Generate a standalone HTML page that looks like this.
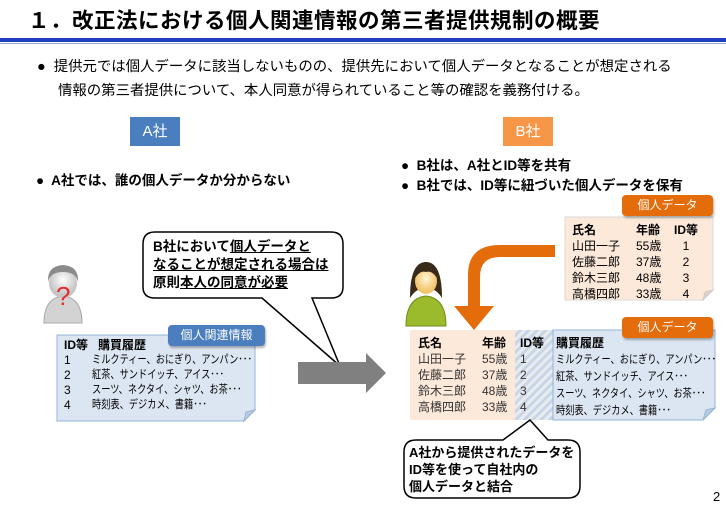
<!DOCTYPE html>
<html><head><meta charset="utf-8"><style>
body{margin:0;width:726px;height:506px;background:#fff;position:relative;overflow:hidden;font-family:"Liberation Sans","Noto Sans CJK JP",sans-serif;color:#000}
.a{position:absolute;white-space:nowrap}
.b{font-weight:bold}
.tab{position:absolute;color:#fff;font-size:12px;text-align:center;border-radius:4px;line-height:21px;box-shadow:1px 2px 2px rgba(0,0,0,.3)}
.row{position:absolute;font-size:12px;line-height:15px;white-space:nowrap}
.sq{display:inline-block;transform:scaleX(0.8);transform-origin:left center;font-size:11.5px}
</style></head><body>
<div class="a b" style="left:28px;top:4px;font-size:21.5px;letter-spacing:0.5px">１．改正法における個人関連情報の第三者提供規制の概要</div>
<div class="a" style="left:0;top:38px;width:726px;height:4px;background:#1f3fbf"></div>
<div class="a" style="left:0;top:43px;width:726px;height:1px;background:#9aa8d8"></div>
<div class="a" style="left:37px;top:55px;font-size:14.4px;line-height:24px">●&nbsp; 提供元では個人データに該当しないものの、提供先において個人データとなることが想定される</div>
<div class="a" style="left:58px;top:79px;font-size:14.4px;line-height:24px">情報の第三者提供について、本人同意が得られていること等の確認を義務付ける。</div>
<div class="a" style="left:130px;top:117px;width:50px;height:29px;background:#4a7ebf;color:#fff;font-size:15px;line-height:29px;text-align:center">A社</div>
<div class="a" style="left:503px;top:117px;width:50px;height:29px;background:#f79646;color:#fff;font-size:15px;line-height:29px;text-align:center">B社</div>
<div class="a b" style="left:36px;top:169px;font-size:13.5px">●&nbsp; A社では、誰の個人データか分からない</div>
<div class="a b" style="left:401px;top:154px;font-size:13.5px">●&nbsp; B社は、A社とID等を共有</div>
<div class="a b" style="left:401px;top:174px;font-size:13.5px">●&nbsp; B社では、ID等に紐づいた個人データを保有</div>

<svg class="a" style="left:0;top:0" width="726" height="506">
<defs><pattern id="h" width="6" height="6" patternUnits="userSpaceOnUse" patternTransform="rotate(45)"><rect width="6" height="6" fill="#e8ecef"/><rect width="3" height="6" fill="#c7d5e6"/></pattern>
<radialGradient id="fa" cx="50%" cy="40%"><stop offset="0" stop-color="#fff"/><stop offset="1" stop-color="#bbb"/></radialGradient>
<radialGradient id="fb" cx="50%" cy="40%"><stop offset="0" stop-color="#fff6d8"/><stop offset="1" stop-color="#f2c46a"/></radialGradient></defs>
<path d="M155 232 H331 Q343 232 343 244 V287 Q343 298 331 298 H312 L340 366 L262 298 H155 Q143 298 143 287 V244 Q143 232 155 232Z" fill="#fff" stroke="#000" stroke-width="1.5"/>
<g opacity="0.85"><path d="M44 323 Q44 298 63 296 Q82 298 82 323Z" fill="#ccc" stroke="#999"/>
<ellipse cx="63" cy="283" rx="14" ry="15" fill="url(#fa)"/><path d="M48 282 Q47 266 63 265 Q79 266 78 282 Q76 272 63 272 Q50 272 48 282Z" fill="#777"/></g>
<text x="56" y="305" font-size="26" fill="#e53030" font-family="Liberation Sans">?</text>
<path d="M57 335 H255 V410 L244 421 H57Z" fill="#dce6f2" stroke="#95b3d7"/>
<path d="M255 410 L246 412 L244 421Z" fill="#b8cce4" stroke="#95b3d7"/>
<path d="M298 362 H366 V353 L386 373 L366 393 V384 H298Z" fill="#808080"/>
<path d="M565 217 H713 V290 L703 300 H565Z" fill="#fde9d9" stroke="#d9d9d9"/>
<path d="M713 290 L705 292 L703 300Z" fill="#e6d0c0" stroke="#ccc"/>
<path d="M555 245 H500 Q468 245 468 275 V306 H454 L474 330 L494 306 H480 V277 Q480 257 500 257 H555Z" fill="#e46c0a"/>
<path d="M406 326 Q406 298 426 296 Q446 298 446 326Z" fill="#9bbb2c" stroke="#6f8a18"/>
<path d="M410 298 Q410 262 426 262 Q442 262 442 298 Q436 288 426 288 Q416 288 410 298Z" fill="#3a2a1a"/>
<ellipse cx="426" cy="281" rx="11" ry="13" fill="url(#fb)"/>
<path d="M415 278 Q416 266 426 266 Q436 266 437 278 Q432 270 426 272 Q420 270 415 278Z" fill="#3a2a1a"/>
<rect x="410" y="330" width="105" height="90" fill="#fde9d9"/>
<rect x="515" y="330" width="38" height="90" fill="url(#h)"/>
<path d="M553 330 H715 V408 L703 420 H553Z" fill="#dce6f2" stroke="#95b3d7"/>
<path d="M715 408 L706 410 L703 420Z" fill="#b8cce4" stroke="#95b3d7"/>
<path d="M416 440 H503 L530 420 L548 440 H568 Q580 440 580 452 V486 Q580 498 568 498 H416 Q404 498 404 486 V452 Q404 440 416 440Z" fill="#fff" stroke="#000" stroke-width="1.5"/>
</svg>

<div class="a b" style="left:153px;top:238px;font-size:13.5px;line-height:18px">B社において<u>個人データと</u><br><u>なることが想定される場合は</u><br>原則<u>本人の同意が必要</u></div>

<div class="tab" style="left:168px;top:325px;width:97px;background:#4a7ebf">個人関連情報</div>
<div class="row b" style="left:64px;top:338px">ID等&nbsp;&nbsp; 購買履歴</div>
<div class="row" style="left:64px;top:353px">1<span class="sq" style="position:absolute;left:28px">ミルクティー、おにぎり、アンパン･･･</span></div>
<div class="row" style="left:64px;top:368px">2<span class="sq" style="position:absolute;left:28px">紅茶、サンドイッチ、アイス･･･</span></div>
<div class="row" style="left:64px;top:383px">3<span class="sq" style="position:absolute;left:28px">スーツ、ネクタイ、シャツ、お茶･･･</span></div>
<div class="row" style="left:64px;top:398px">4<span class="sq" style="position:absolute;left:28px">時刻表、デジカメ、書籍･･･</span></div>

<div class="tab" style="left:622px;top:195px;width:91px;background:#e46c0a">個人データ</div>
<div class="row" style="left:572px;top:222px;line-height:16px"><b>氏名</b><br>山田一子<br>佐藤二郎<br>鈴木三郎<br>高橋四郎</div>
<div class="row" style="left:636px;top:222px;line-height:16px"><b>年齢</b><br>55歳<br>37歳<br>48歳<br>33歳</div>
<div class="row" style="left:674px;top:222px;line-height:16px;text-align:center"><b>ID等</b><br>1<br>2<br>3<br>4</div>

<div class="tab" style="left:622px;top:317px;width:91px;background:#e46c0a">個人データ</div>
<div class="row" style="left:418px;top:335px;line-height:16px;color:#333"><b style="color:#000">氏名</b><br>山田一子<br>佐藤二郎<br>鈴木三郎<br>高橋四郎</div>
<div class="row" style="left:482px;top:335px;line-height:16px;color:#333"><b style="color:#000">年齢</b><br>55歳<br>37歳<br>48歳<br>33歳</div>
<div class="row" style="left:520px;top:335px;line-height:16px;color:#333"><b style="color:#000">ID等</b><br>1<br>2<br>3<br>4</div>
<div class="row" style="left:556px;top:335px;line-height:16px"><b>購買履歴</b><br><span class="sq">ミルクティー、おにぎり、アンパン･･･</span><br><span class="sq">紅茶、サンドイッチ、アイス･･･</span><br><span class="sq">スーツ、ネクタイ、シャツ、お茶･･･</span><br><span class="sq">時刻表、デジカメ、書籍･･･</span></div>

<div class="a b" style="left:409px;top:444px;font-size:13px;line-height:17px">A社から提供されたデータを<br>ID等を使って自社内の<br>個人データと結合</div>
<div class="a" style="left:713px;top:489px;font-size:13px">2</div>
</body></html>
